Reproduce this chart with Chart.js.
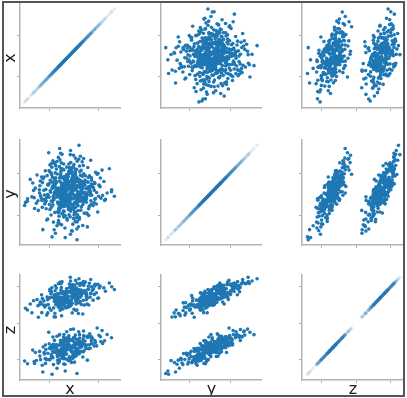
<!DOCTYPE html>
<html><head><meta charset="utf-8">
<script src="https://cdn.jsdelivr.net/npm/chart.js@4.4.1/dist/chart.umd.min.js"></script>
<style>
html,body{margin:0;padding:0;background:#fff;}
#fig{position:relative;width:407px;height:398px;overflow:hidden;background:#fff;}
#fig canvas{position:absolute;left:0;top:0;}
.frame{position:absolute;left:2px;top:1px;width:403px;height:396px;box-sizing:border-box;border:2px solid #555;pointer-events:none;}
.lab{position:absolute;font-family:"DejaVu Sans",sans-serif;font-size:16px;line-height:16px;color:#1a1a1a;white-space:nowrap;}
</style></head><body>
<div id="fig"></div>
<script>
// variable names (axis labels)
const varNames = ['x', 'y', 'z'];

// observations (same index = same sample)
const xVals = [
0.42,-1.13,0.07,1.58,-0.64,0.93,-0.28,2.21,-1.87,0.19,
-0.45,0.81,-0.03,1.24,-1.52,0.56,-0.91,0.33,-2.46,1.05,
-0.17,0.68,-1.29,1.92,-0.72,0.14,0.49,-2.03,1.36,-0.36,
0.88,-0.58,0.26,-1.04,2.67,-0.11,0.61,-1.71,0.02,1.15,
-0.83,0.37,-0.21,1.73,-2.89,0.54,-0.49,0.98,-1.38,0.11,
0.72,-0.95,1.41,-0.06,0.29,-1.66,2.04,-0.31,0.63,-0.77,
1.09,-0.14,-2.21,0.46,0.83,-0.53,1.62,-1.19,0.23,-0.39,
0.05,1.31,-0.87,-1.45,0.59,2.43,-0.24,0.76,-1.01,0.17,
-0.62,1.47,-0.09,0.35,-1.96,0.91,-0.44,0.12,-1.22,1.86,
-0.32,0.67,-0.79,3.12,-0.16,0.44,-1.57,1.02,-0.68,0.28,
-0.51,1.19,0.03,-1.33,0.74,-0.27,2.12,-0.93,0.52,-0.04,
1.53,-0.61,0.21,-2.58,0.86,-0.19,0.39,-1.11,1.27,-0.47,
0.08,-0.71,1.68,-1.42,0.57,-0.12,0.95,-0.34,2.35,-0.88,
0.31,-1.78,0.69,-0.22,1.12,-0.56,0.16,-1.06,1.79,-0.41,
0.48,-2.12,0.97,-0.29,0.62,-0.85,1.38,-0.08,0.24,-1.49,
0.79,-0.66,2.56,-0.13,0.41,-1.24,1.06,-0.38,0.15,-0.97,
0.58,-0.02,1.44,-1.61,0.36,-0.74,0.84,-0.25,1.97,-0.57,
0.09,-1.15,0.71,-0.46,1.21,-0.18,-2.33,0.53,-0.81,0.27,
1.63,-0.35,0.64,-1.08,0.01,-0.69,1.34,-0.21,0.47,-1.83,
0.89,-0.55,0.19,2.79,-0.11,-0.98,0.42,1.08,-0.43,-3.04,
0.33,-0.64,1.55,-0.26,0.76,-1.27,0.04,0.94,-0.52,1.71,
-0.15,-1.92,0.55,-0.37,1.17,-0.76,0.22,2.18,-0.05,-1.35,
0.66,-0.42,1.01,-0.89,0.13,-1.59,0.51,-0.23,1.89,-0.63,
0.38,-1.01,0.82,-0.10,1.26,-0.59,0.25,-2.01,0.70,-0.32,
1.51,-0.70,0.06,-1.18,0.92,-0.48,0.30,2.08,-0.17,-0.84,
0.43,-0.01,1.36,-1.46,0.61,-0.28,0.87,-0.62,-2.39,0.18,
1.12,-0.45,0.34,-0.94,1.69,-0.07,0.58,-1.30,0.24,-0.60,
0.99,-0.20,1.45,-1.73,0.50,-0.36,0.11,2.29,-0.80,0.65,
-0.13,-1.10,0.80,0.02,-0.53,1.30,-0.30,0.45,-2.70,1.03,
-0.73,0.37,-0.09,1.58,-1.20,0.28,-0.46,0.74,-0.24,1.92,
3.31,3.10,-3.10,-2.90,0.64,0.78,-0.60,-0.20,-0.90,0.30,2.95,-1.80,-1.14,-0.43,
-0.37,1.14,0.22,-0.96,0.57,-1.63,0.04,1.82,-0.19,-0.58,
0.71,-1.27,0.35,-0.08,2.31,-0.45,0.93,-2.15,0.16,-0.69,
1.37,-0.27,0.52,-1.09,0.08,-0.62,1.66,-0.14,0.45,-1.84,
0.29,-0.51,1.01,-0.33,0.64,-1.41,2.02,-0.02,0.83,-0.77,
0.13,-1.05,0.61,-0.23,1.48,-0.56,0.39,-2.52,0.87,-0.11,
-0.85,0.47,1.21,-0.39,0.02,-1.52,0.76,-0.64,1.95,-0.18,
0.54,-1.17,0.31,-0.42,1.09,-0.03,-1.98,0.68,0.19,-0.79,
1.28,-0.21,0.42,-1.35,0.96,-0.48,0.07,-0.93,2.47,-0.26,
0.58,-0.71,1.53,-0.05,0.34,-1.62,0.82,-0.35,0.12,-1.03,
1.74,-0.54,0.27,-0.86,0.63,-2.26,0.91,-0.12,1.19,-0.44,
0.05,-1.29,0.73,-0.31,1.43,-0.67,0.21,-1.74,0.49,-0.15,
0.97,-0.59,2.14,-0.22,0.36,-1.13,0.69,-0.08,1.58,-0.49,
0.14,-0.92,0.81,-1.56,0.26,-0.37,1.11,-0.74,0.52,-2.05,
0.44,-0.13,1.87,-0.82,0.23,-0.51,0.67,-1.21,1.04,-0.28,
0.09,-0.66,1.32,-1.44,0.57,-0.04,0.78,-0.97,2.61,-0.35,
0.38,-1.08,0.86,-0.19,1.67,-0.63,0.11,-2.42,0.53,-0.46,
1.24,-0.16,0.61,-0.87,0.02,1.45,-1.33,0.31,-0.53,0.92,
-0.24,0.48,-1.69,1.16,-0.42,0.18,2.23,-0.75,0.33,-1.12,
0.73,-0.06,1.39,-0.58,0.25,-1.89,0.95,-0.34,0.06,-0.81,
1.61,-0.47,0.40,-1.02,0.84,-0.20,0.55,-0.99,1.07,-0.29
];
const yVals = [
-0.85,0.31,1.46,-0.22,0.05,0.77,-1.34,0.48,-0.59,2.03,
-0.12,-1.76,0.64,1.12,-0.38,0.26,1.88,-0.97,0.11,-2.31,
0.93,-0.44,-1.21,0.58,0.02,-0.63,1.37,-0.07,-1.52,0.39,
2.47,-0.29,0.84,-2.08,-0.51,0.17,-0.78,1.04,-1.09,0.69,
1.58,-0.16,-1.63,0.34,-0.47,1.21,-0.92,0.08,2.71,-0.36,
-1.28,0.53,1.69,-0.58,0.98,-0.83,-0.04,1.93,-2.56,0.21,
-0.67,0.44,1.17,-1.42,0.62,-0.21,2.19,-1.05,0.13,-0.71,
1.28,-0.33,0.76,-1.87,0.29,1.51,-0.55,-0.09,0.36,-2.92,
0.97,-1.16,0.06,1.74,-0.26,0.51,-1.49,-0.41,1.33,-0.73,
0.23,-0.87,2.11,0.15,-0.13,0.71,-0.62,1.08,-1.97,0.42,
1.62,-0.02,-1.21,0.58,0.88,-0.49,-1.38,0.03,2.34,-0.68,
0.19,-0.95,1.44,-0.34,-0.18,0.67,-1.83,1.02,-0.56,0.32,
-0.27,-2.14,0.81,0.47,-0.74,1.19,-1.03,0.12,-0.43,1.81,
-0.06,0.91,-1.59,0.37,1.26,-0.82,2.58,-0.31,-0.94,0.55,
-0.39,-1.27,0.14,1.53,-0.66,0.24,-2.41,0.86,-0.15,1.13,
0.41,-1.12,0.72,-0.48,1.67,-0.01,-0.86,0.59,-1.71,2.02,
-0.24,0.79,0.02,-0.57,1.07,-1.36,0.33,-0.77,1.36,0.09,
-0.52,1.71,-0.11,-2.27,0.49,0.96,0.27,-1.06,-0.35,1.41,
-0.61,0.16,0.73,-0.89,-0.19,2.39,-1.45,0.44,-0.32,0.65,
1.15,-0.46,-1.32,-0.07,0.52,-0.15,1.89,-0.53,0.28,-0.72,
0.61,-1.68,0.38,-0.23,2.26,0.81,-0.98,-0.06,1.25,-0.84,
0.07,-0.41,0.89,-1.54,0.56,-0.12,1.61,-0.29,-0.64,1.48,
-2.05,0.35,-0.37,0.98,-0.79,0.18,1.31,-0.03,0.66,-1.19,
0.11,-0.54,1.79,-0.88,-0.14,0.74,-2.68,0.43,0.01,1.04,
-1.02,-0.26,0.50,1.97,-0.60,-0.95,0.22,1.22,-0.44,0.63,
-1.58,0.83,0.25,-0.18,1.56,-0.69,-0.27,0.04,-1.14,2.86,
0.46,-0.35,0.95,-1.41,-0.22,0.30,-0.50,1.39,-0.04,-2.20,
0.70,-0.80,1.00,0.12,-0.31,0.57,-1.25,0.36,-0.09,2.13,
-0.45,0.68,-1.88,0.19,1.12,-0.71,-0.17,0.41,0.87,-0.38,
0.27,-1.07,1.72,0.05,-0.62,0.78,-0.20,-2.40,0.60,-0.50,
-0.29,0.02,-0.93,-0.64,-3.30,3.22,3.00,-3.15,-2.85,-2.70,1.60,-2.60,-3.10,2.60,
0.52,-0.41,-1.12,0.88,0.14,-0.73,1.34,0.29,-0.36,2.22,
-0.95,0.09,0.66,-1.81,0.97,-0.08,1.49,-0.61,0.33,-1.44,
-0.18,1.05,-2.03,0.41,-0.57,1.76,0.55,-0.24,0.84,-1.06,
0.18,-0.66,2.08,-1.31,0.47,-0.27,-0.83,0.71,-0.04,1.24,
-0.88,0.36,1.02,-0.49,-1.62,0.21,2.54,0.62,-0.31,0.95,
-0.14,-0.72,0.83,1.58,-0.21,-1.93,0.38,0.02,-0.46,0.57,
-1.38,1.19,0.04,-0.52,1.83,-0.29,0.76,-0.68,1.29,-2.33,
0.24,-0.98,0.61,-0.36,-0.12,2.01,-1.57,0.45,-0.24,0.82,
-0.39,-0.81,1.11,0.26,-2.22,1.46,-0.55,0.13,0.69,-0.44,
0.51,-1.09,1.65,-0.03,0.31,-0.78,-1.26,0.94,-0.15,0.48,
-0.63,1.87,-0.07,-1.73,0.67,0.19,-0.34,-0.51,1.36,-0.92,
0.42,-0.19,1.27,-2.49,0.58,-0.67,-0.26,1.12,-0.92,0.35,
-0.11,1.32,0.73,-1.16,0.06,-0.59,2.31,-0.32,-1.49,0.16,
0.93,-0.43,0.12,0.69,-0.84,1.43,-0.16,-1.59,0.26,0.01,
1.68,-0.75,-0.47,0.53,-2.06,0.37,0.87,-0.07,-0.58,-1.02,
0.28,2.15,-0.64,-0.17,0.98,-1.28,0.47,-0.39,1.51,-0.56,
-0.29,0.79,-1.77,0.08,1.07,0.36,-0.86,-0.48,2.67,0.14,
-0.35,0.63,-0.21,-1.46,0.97,-0.02,0.44,-0.69,1.18,0.25,
-0.53,-1.94,0.71,0.09,0.39,1.03,-0.37,-0.81,1.93,-0.14,
-0.07,0.61,-1.21,-0.45,1.39,0.17,-0.23,-2.61,0.55,-0.61
];
const zVals = [
3.44,-4.58,4.85,-1.91,-3.88,3.76,2.46,-1.66,1.44,-0.88,
2.67,-4.18,4.36,5.63,-5.00,-3.49,5.13,-4.51,3.07,1.25,
-2.55,3.65,-5.03,5.08,2.46,-3.30,-2.72,-3.88,2.61,4.08,
5.46,-4.05,4.59,-5.69,4.37,-3.30,4.11,-4.02,2.33,-1.80,
4.81,-4.16,-4.87,4.47,-5.57,5.86,2.13,-3.24,-1.25,2.73,
-3.49,3.31,-1.77,-3.15,4.02,2.22,-3.12,-1.92,1.81,3.71,
3.14,-2.17,3.25,-5.35,-2.03,3.34,5.98,-4.64,2.53,-4.13,
-2.02,3.66,-3.25,1.40,3.86,-1.02,3.28,-3.01,-3.98,-5.14,
4.06,-3.51,3.01,5.14,-5.01,4.41,-3.87,2.99,3.99,-3.12,
-3.36,3.25,-1.80,4.99,-3.40,-2.64,2.46,4.18,2.19,-3.38,
5.40,-2.93,2.22,-3.44,4.16,-4.17,3.42,3.36,-1.64,-3.63,
-2.97,3.04,-2.30,1.41,4.47,3.81,-4.15,-3.04,-3.47,3.55,
-3.21,-5.48,4.97,3.31,2.62,-2.09,2.54,-3.36,-2.52,3.89,
3.60,-3.27,-4.19,4.22,-1.70,1.78,6.30,-3.31,3.15,-3.41,
-3.21,0.80,4.01,-1.57,3.51,-3.51,-5.08,4.34,-3.71,3.57,
-2.74,3.16,4.83,3.31,-1.99,-3.53,-4.64,4.14,2.34,-2.37,
3.68,-2.50,4.64,-5.52,5.25,-5.09,-2.49,2.79,5.31,-2.91,
-4.63,4.86,-2.64,1.02,4.15,3.88,-4.02,-3.79,2.98,-2.39,
4.06,-2.53,4.37,-4.74,2.43,5.41,3.77,-3.71,-3.35,3.37,
-2.72,-3.69,2.40,-1.57,3.31,3.87,5.11,-3.94,-3.26,2.03,
5.02,-5.33,-1.48,2.66,-1.19,3.50,-5.16,4.52,-2.63,-2.81,
2.88,2.67,-2.92,1.93,5.49,-4.39,5.06,3.43,-3.10,-2.84,
2.78,3.21,-2.93,-3.36,3.06,-3.63,3.93,-3.54,5.24,-5.18,
3.79,3.61,-1.58,-4.25,4.20,3.57,-5.39,-4.52,-2.24,3.57,
-3.46,2.92,-2.92,4.29,3.72,-4.20,2.74,-0.66,3.02,-2.95,
1.89,-2.26,-3.00,3.21,4.81,-4.26,4.09,-3.78,-5.53,5.77,
5.18,-3.94,-2.17,1.36,-2.76,4.14,-3.96,4.40,3.18,-4.98,
4.13,2.88,-1.88,3.05,-3.83,-2.37,-4.97,5.07,2.92,5.45,
-3.27,-3.93,2.80,3.68,-2.36,3.21,-4.30,4.39,2.63,-2.63,
3.48,-4.38,-1.19,3.54,-4.35,4.54,3.49,1.31,-2.98,-2.39,
4.60,-2.00,-5.20,1.80,-6.90,6.09,-1.58,-6.57,0.84,1.40,5.50,-6.71,-7.01,5.69,
4.08,-3.80,-3.80,3.61,4.71,-4.87,-2.97,4.67,2.18,5.61,
-3.80,-3.35,3.77,2.13,-1.87,-4.60,5.41,2.38,-3.12,-5.44,
3.42,-2.29,-4.17,3.52,2.93,-1.63,-2.38,-3.49,5.18,-5.77,
3.51,3.25,5.38,-4.64,-2.26,2.55,4.16,-3.47,-3.02,4.03,
-4.73,-2.90,4.72,3.24,2.48,-3.69,-0.82,-3.70,2.96,4.70,
-4.05,3.69,-2.45,4.33,-3.28,1.10,4.42,2.60,-2.64,-3.28,
3.03,-3.11,-4.01,-3.58,5.69,3.42,2.89,-3.67,5.26,-6.19,
3.96,-4.19,-2.04,-5.00,3.97,4.87,2.52,-3.36,-2.78,4.11,
-3.96,2.72,5.46,2.91,-4.83,-3.00,4.02,-3.76,-2.42,2.09,
-2.07,2.25,5.02,3.44,-3.51,-5.13,-3.88,-3.01,4.46,3.31,
3.16,4.64,-2.80,-5.61,4.62,-3.06,-3.80,2.47,-2.03,2.10,
4.36,-4.27,5.31,-5.65,4.80,-4.67,3.41,-2.03,-3.44,2.87,
-3.23,4.43,4.26,-4.92,3.68,-4.82,-1.07,3.54,-4.58,2.52,
-2.04,3.15,3.94,-3.49,-3.64,4.53,-3.81,1.76,-2.55,3.07,
5.36,-4.41,4.14,-4.14,1.73,-2.59,4.57,2.95,-2.42,-4.89,
-3.06,-1.91,3.55,2.85,-1.88,2.53,4.28,-5.26,4.62,-3.83,
-3.14,4.33,-4.39,2.54,-2.83,5.05,2.06,-3.18,5.44,-3.31,
3.47,-2.59,-4.23,2.47,-2.84,4.27,4.81,-4.60,4.13,-3.44,
3.39,-4.98,-1.97,2.99,-3.52,3.88,-2.86,2.50,-1.73,-3.83,
4.04,4.31,-4.59,-3.82,5.17,-3.85,3.07,0.86,-2.17,2.81
];

// tick values (no tick labels are shown in the figure)
const xTicksH = [-1.29, 2.14];
const xTicksV = [-1.38, 1.45];
const yTicks = [-1.6, 1.3];
const zTicks = [-5, 0, 5];

const vals = [xVals, yVals, zVals];
const hRange = [[-3.43, 3.71], [-3.64, 3.5], [-7.8, 6.6]];
const vRange = [[-3.52, 3.72], [-3.66, 3.59], [-7.8, 6.6]];
const hTicks = [xTicksH, yTicks, zTicks];
const vTicks = [xTicksV, yTicks, zTicks];

const W = 407, H = 398, AX = 3;
const cols = [{L: 20, W: 100}, {L: 161, W: 100}, {L: 302, W: 100}];
const rows = [{T: 3, H: 105}, {T: 140, H: 105}, {T: 275, H: 105}];
const BLUE = '#1f77b4';
const fig = document.getElementById('fig');

function axis(range, ticks) {
  return {
    type: 'linear', min: range[0], max: range[1],
    afterBuildTicks: (s) => { s.ticks = ticks.map(v => ({value: v})); },
    ticks: {display: false},
    grid: {display: true, drawOnChartArea: false, drawTicks: true, tickLength: AX, color: '#b0b0b0', lineWidth: 1},
    border: {display: true, color: '#b4b4b4', width: 1.5},
    title: {display: false}
  };
}

for (let r = 0; r < 3; r++) {
  for (let c = 0; c < 3; c++) {
    const cv = document.createElement('canvas');
    cv.width = W; cv.height = H;
    cv.style.width = W + 'px'; cv.style.height = H + 'px';
    fig.appendChild(cv);
    const diag = r === c;
    const pts = vals[c].map((v, i) => ({x: v, y: vals[r][i]}));
    new Chart(cv, {
      type: 'scatter',
      data: {datasets: [{
        data: pts,
        backgroundColor: diag ? 'rgba(31,119,180,0.13)' : BLUE,
        borderWidth: 0, pointRadius: 1.8, pointHoverRadius: 1.8, pointBorderWidth: 0
      }]},
      options: {
        responsive: false, animation: false, events: [],
        layout: {padding: {
          left: cols[c].L - AX, top: rows[r].T,
          right: W - cols[c].L - cols[c].W,
          bottom: H - rows[r].T - rows[r].H - AX
        }},
        plugins: {legend: {display: false}, tooltip: {enabled: false}, title: {display: false}},
        scales: {x: axis(hRange[c], hTicks[c]), y: axis(vRange[r], vTicks[r])}
      }
    });
  }
}

// axis labels
const bottomCx = [70, 211.5, 353];
const leftCy = [57.5, 194, 330];
for (let i = 0; i < 3; i++) {
  const b = document.createElement('div');
  b.className = 'lab'; b.textContent = varNames[i];
  b.style.left = bottomCx[i] + 'px'; b.style.top = '380.5px';
  b.style.transform = 'translateX(-50%)';
  fig.appendChild(b);
  const l = document.createElement('div');
  l.className = 'lab'; l.textContent = varNames[i];
  l.style.left = '10px'; l.style.top = leftCy[i] + 'px';
  l.style.transform = 'translate(-50%,-50%) rotate(-90deg)';
  fig.appendChild(l);
}
const fr = document.createElement('div');
fr.className = 'frame';
fig.appendChild(fr);
</script>
</body></html>
